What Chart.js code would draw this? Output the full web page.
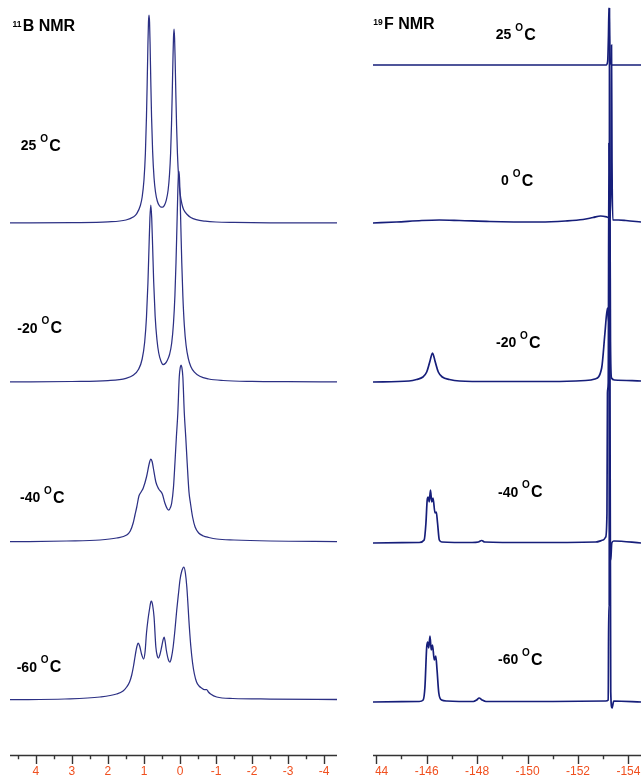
<!DOCTYPE html>
<html><head><meta charset="utf-8">
<script src="https://cdn.jsdelivr.net/npm/chart.js@4.4.1/dist/chart.umd.min.js"></script>
<style>
html,body{margin:0;padding:0;background:#fff;width:641px;height:777px;overflow:hidden;}
#left{position:absolute;left:0;top:0;}
#right{position:absolute;left:373px;top:0;}
</style></head><body>
<canvas id="left" width="341" height="777"></canvas>
<canvas id="right" width="268" height="777"></canvas>
<script>
// ---------- 11B NMR spectra: [ppm, intensity] ----------
const B11_25C = [[4.72,0.1],[3.0,0.35],[2.0,1.1],[1.5,3.0],[1.3,5.9],[1.2,9.4],[1.1,17.5],[1.05,26],[1.0,43],[0.96,70],[0.93,107],[0.91,141],[0.89,179],[0.875,201],[0.86,208],[0.845,201],[0.83,179],[0.81,141],[0.79,107],[0.76,72],[0.72,45],[0.68,31],[0.63,22],[0.58,17.7],[0.53,15.9],[0.48,15.9],[0.43,17.9],[0.38,22.8],[0.33,32.8],[0.29,49],[0.26,70],[0.235,99],[0.215,130],[0.195,164],[0.18,185.5],[0.165,194],[0.15,185],[0.135,164],[0.115,129],[0.095,98],[0.07,69],[0.04,47],[0.0,30.4],[-0.05,19.5],[-0.1,13.5],[-0.2,8.5],[-0.3,5.5],[-0.45,3.3],[-0.7,1.8],[-1.0,1.0],[-1.5,0.6],[-2.5,0.2],[-4.36,0.1]];
const B11_m20C = [[4.72,0.1],[3.0,0.5],[2.0,1.4],[1.5,3.7],[1.3,6.7],[1.15,12.7],[1.05,23],[0.98,40],[0.93,65],[0.89,99],[0.86,135],[0.835,164],[0.81,177],[0.785,164],[0.76,136],[0.73,100],[0.69,66],[0.64,42.5],[0.59,29],[0.53,21],[0.47,17.5],[0.41,18.5],[0.35,21.8],[0.29,27.5],[0.23,39],[0.18,59],[0.14,87],[0.11,120],[0.085,155],[0.06,191],[0.045,206],[0.03,211],[0.015,205],[0.0,190],[-0.025,154],[-0.05,119],[-0.08,86],[-0.12,57],[-0.17,36.5],[-0.23,23.7],[-0.3,15.6],[-0.4,9.8],[-0.55,5.7],[-0.8,3.0],[-1.2,1.5],[-2.0,0.6],[-3.0,0.3],[-4.36,0.15]];
const B11_m40C = [[4.72,0.3],[3.15,1],[2.22,2],[1.76,4],[1.48,7],[1.38,11],[1.3,19],[1.25,27],[1.2,35],[1.14,46],[1.08,50],[1.02,54],[0.93,65],[0.85,79],[0.81,83],[0.77,80],[0.74,74],[0.67,60],[0.59,53],[0.49,48],[0.42,39],[0.35,33],[0.31,32],[0.26,35],[0.23,39],[0.18,55],[0.14,79],[0.1,105],[0.06,129],[0.02,165],[-0.01,175],[-0.03,177],[-0.05,175],[-0.08,165],[-0.12,129],[-0.16,105],[-0.2,79],[-0.25,50],[-0.29,39],[-0.35,25],[-0.42,15],[-0.52,9],[-0.65,6],[-0.8,4.5],[-1.02,3],[-1.5,2],[-2.5,1],[-4.36,0.5]];
const B11_m60C = [[4.72,0.3],[3.2,1],[2.22,3],[1.76,6],[1.58,9],[1.48,13],[1.4,18],[1.34,25],[1.29,34],[1.25,43],[1.2,53],[1.16,57],[1.12,54],[1.06,45],[1.01,41],[0.97,48],[0.93,67],[0.89,80],[0.85,90],[0.81,98],[0.79,99],[0.76,95],[0.72,83],[0.67,53],[0.63,44],[0.6,42],[0.56,45],[0.51,53],[0.47,60],[0.44,63],[0.41,58],[0.38,50],[0.32,40],[0.28,38],[0.24,42],[0.19,53],[0.14,70],[0.09,90],[0.04,107],[0.0,120],[-0.05,129],[-0.11,133],[-0.15,127],[-0.19,113],[-0.26,73],[-0.3,54],[-0.35,37],[-0.4,26],[-0.46,18],[-0.53,14],[-0.6,12],[-0.68,10.5],[-0.74,10.5],[-0.79,8],[-0.85,6],[-1.02,3],[-1.47,1.5],[-2.5,1],[-4.36,0.5]];

// ---------- 19F NMR spectra: [ppm, intensity] ----------
const F19_25C = [[-143.87,0],[-148.0,0],[-153.12,0],[-153.18,4],[-153.21,30],[-153.23,57],[-153.25,30],[-153.28,4],[-153.34,0],[-154.5,0]];
const F19_0C = [[-143.87,0],[-144.8,1],[-145.8,2.5],[-146.5,3],[-147.3,2.5],[-148.5,1.5],[-150.5,1],[-151.5,2],[-152.2,3.5],[-152.6,5.5],[-152.9,7],[-153.15,6],[-153.28,5],[-153.31,60],[-153.33,178],[-153.35,60],[-153.38,3],[-153.6,3],[-153.9,2.5],[-154.5,1]];
const F19_m20C = [[-143.87,0],[-145.3,1],[-145.6,2.5],[-145.85,5],[-146.0,10],[-146.12,20],[-146.23,29],[-146.34,20],[-146.46,10],[-146.62,5],[-146.9,2.5],[-147.3,1],[-148.5,0.5],[-151.0,0.5],[-152.3,1.5],[-152.67,3],[-152.94,14],[-153.07,49],[-153.17,74],[-153.22,60],[-153.25,120],[-153.27,170],[-153.29,40],[-153.33,4],[-153.45,2],[-154.5,1]];
const F19_m40C = [[-143.87,0],[-145.7,0.5],[-145.9,3],[-145.97,20],[-146.02,43],[-146.06,46],[-146.1,41],[-146.15,53],[-146.2,41],[-146.25,45],[-146.33,30],[-146.38,31],[-146.43,20],[-146.5,3],[-146.6,1],[-147.8,0.5],[-148.05,1],[-148.18,2.5],[-148.3,1],[-150.0,0.5],[-152.7,1],[-153.0,3],[-153.1,6],[-153.15,30],[-153.17,150],[-153.2,160],[-153.23,400],[-153.26,20],[-153.3,-17],[-153.34,0],[-153.42,2],[-154.5,0]];
const F19_m60C = [[-143.87,0],[-145.7,0.5],[-145.86,2],[-145.93,15],[-146.0,55],[-146.04,60],[-146.08,54],[-146.13,66],[-146.18,52],[-146.23,57],[-146.3,42],[-146.36,46],[-146.41,32],[-146.48,9],[-146.59,2],[-146.8,1],[-147.85,0.5],[-147.98,2],[-148.08,4],[-148.2,2],[-148.35,0.5],[-151.0,0.5],[-153.1,1],[-153.2,2],[-153.22,97],[-153.24,97],[-153.25,694],[-153.27,300],[-153.3,10],[-153.35,-6],[-153.42,1],[-154.5,0]];

// vertical stacking offsets (same units as intensity)
const B11_offsets = [532.5, 373.5, 213.5, 55.5];
const F19_offsets = [690.5, 532.5, 373.5, 212.5, 53.5];

// axis ticks
const B11_majorTicks = [4,3,2,1,0,-1,-2,-3,-4];
const B11_tickLabels = ['4','3','2','1','0','-1','-2','-3','-4'];
const B11_minorTicks = [4.5,3.5,2.5,1.5,0.5,-0.5,-1.5,-2.5,-3.5];
const F19_majorTicks = [-144,-146,-148,-150,-152,-154];
const F19_tickLabels = ['-144','-146','-148','-150','-152','-154'];
const F19_minorTicks = [-145,-147,-149,-151,-153];

// temperature labels
const B11_temps = ['25','-20','-40','-60'];
const F19_temps = ['25','0','-20','-40','-60'];

const FONT = '"Liberation Sans", Arial, sans-serif';

function drawTemp(ctx, num, x, y){
  ctx.font = 'bold 14px ' + FONT;
  const a = num + ' ';
  ctx.fillText(a, x, y);
  let w = ctx.measureText(a).width;
  ctx.font = 'bold 10px ' + FONT;
  ctx.fillText('O', x + w, y - 8.3);
  w += ctx.measureText('O').width + 1.2;
  ctx.font = 'bold 16px ' + FONT;
  ctx.fillText('C', x + w, y + 0.5);
}

const overlay = {
  id: 'overlay',
  afterDraw(chart, args, o){
    const ctx = chart.ctx, a = chart.chartArea, x = chart.scales.x;
    const y0 = a.bottom;
    ctx.save();
    ctx.strokeStyle = '#333333';
    ctx.lineWidth = 1.4;
    ctx.beginPath();
    ctx.moveTo(a.left, y0); ctx.lineTo(a.right, y0);
    o.major.forEach(v => { const p = Math.round(x.getPixelForValue(v)) + 0.5; ctx.moveTo(p, y0); ctx.lineTo(p, y0 + 8.5); });
    o.minor.forEach(v => { const p = Math.round(x.getPixelForValue(v)) + 0.5; ctx.moveTo(p, y0); ctx.lineTo(p, y0 + 3.8); });
    ctx.stroke();
    ctx.save();
    ctx.beginPath(); ctx.rect(o.clipLeft, y0 + 2, chart.width, 30); ctx.clip();
    ctx.fillStyle = '#f0501f';
    ctx.font = '12px ' + FONT;
    ctx.textAlign = 'center';
    ctx.textBaseline = 'alphabetic';
    o.major.forEach((v, i) => ctx.fillText(o.labels[i], x.getPixelForValue(v), 774.5));
    ctx.restore();
    // titles and temperature labels
    ctx.fillStyle = '#000';
    ctx.textAlign = 'left';
    ctx.textBaseline = 'alphabetic';
    ctx.font = 'bold 8.5px ' + FONT;
    ctx.fillText(o.titleSup, o.title[0], o.title[1] - 4);
    const sw = ctx.measureText(o.titleSup).width;
    ctx.font = 'bold 16px ' + FONT;
    ctx.fillText(o.titleMain, o.title[0] + sw + 1.2, o.title[1]);
    o.temps.forEach((t, i) => drawTemp(ctx, t, o.tempPos[i][0], o.tempPos[i][1]));
    ctx.restore();
  }
};

function makeDatasets(list, offsets, color, width){
  return list.map((arr, i) => ({
    data: arr.map(([x, v]) => ({x: x, y: v + offsets[i]})),
    showLine: true, pointRadius: 0, borderColor: color, borderWidth: width,
    cubicInterpolationMode: 'monotone', fill: false
  }));
}

function baseOptions(min, max, padL, padR, ov){
  return {
    responsive: false, animation: false, devicePixelRatio: 1,
    layout: {padding: {left: padL, right: padR, top: 0, bottom: 21.5}},
    plugins: {legend: {display: false}, tooltip: {enabled: false}, overlay: ov},
    scales: {
      x: {type: 'linear', min: min, max: max, reverse: true, display: false},
      y: {type: 'linear', min: 0, max: 755.5, display: false}
    }
  };
}

new Chart(document.getElementById('left'), {
  type: 'scatter',
  data: {datasets: makeDatasets([B11_25C, B11_m20C, B11_m40C, B11_m60C], B11_offsets, '#2c3084', 1.25)},
  options: baseOptions(-4.36, 4.72, 10, 4, {
    major: B11_majorTicks, minor: B11_minorTicks, labels: B11_tickLabels, clipLeft: 0,
    titleSup: '11', titleMain: 'B NMR', title: [12.5, 30.7],
    temps: B11_temps, tempPos: [[20.7,150],[17.3,332.7],[20,502.3],[16.7,671.7]]
  }),
  plugins: [overlay]
});

new Chart(document.getElementById('right'), {
  type: 'scatter',
  data: {datasets: makeDatasets([F19_25C, F19_0C, F19_m20C, F19_m40C, F19_m60C], F19_offsets, '#161e7a', 1.7)},
  options: baseOptions(-154.5, -143.87, 0, 0, {
    major: F19_majorTicks, minor: F19_minorTicks, labels: F19_tickLabels, clipLeft: 2.3,
    titleSup: '19', titleMain: 'F NMR', title: [0.3, 29.3],
    temps: F19_temps, tempPos: [[122.7,39.3],[128,185],[123,347.3],[125,496.7],[125,664]]
  }),
  plugins: [overlay]
});
</script>
</body></html>
